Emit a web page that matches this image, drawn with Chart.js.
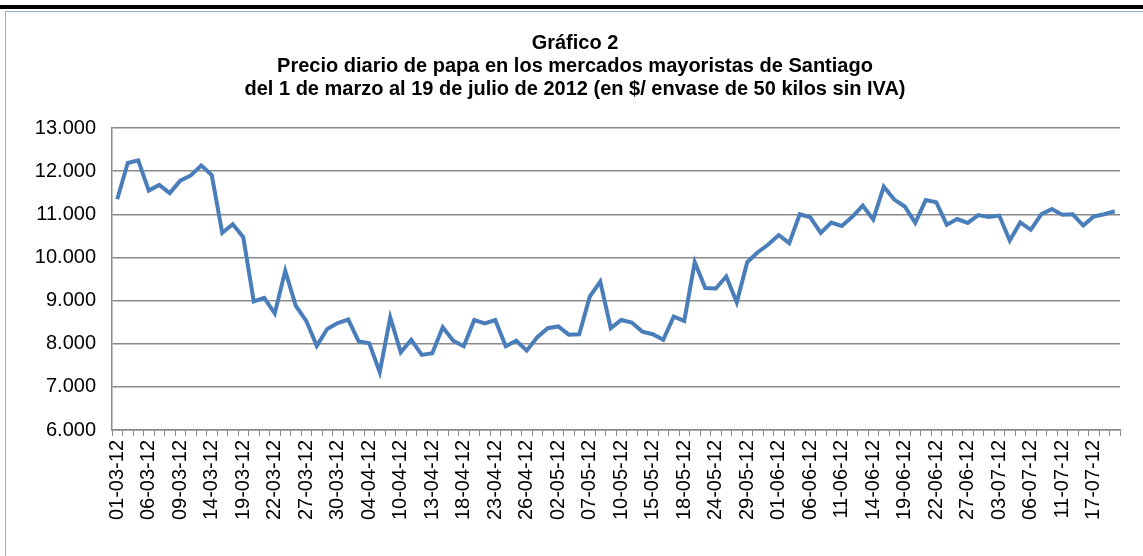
<!DOCTYPE html>
<html>
<head>
<meta charset="utf-8">
<script src="https://cdn.jsdelivr.net/npm/chart.js@4.4.1/dist/chart.umd.min.js"></script>
<style>
html, body { margin:0; padding:0; background:#fff; }
body { width:1143px; height:556px; position:relative; overflow:hidden; }
#barra { position:absolute; left:0; top:5px; width:1143px; height:4px; background:#000; }
#marco { position:absolute; left:5px; top:11px; width:1150px; height:600px; border:1px solid #95b0cf; box-sizing:border-box; }
#wrap { position:absolute; left:0; top:0; width:1143px; height:556px; }
</style>
</head>
<body>
<div id="barra"></div>
<div id="marco"></div>
<div id="wrap"><canvas id="c1"></canvas></div>
<script>
// =========================
// DATOS
// =========================
const fechas = [
    "01-03-12","02-03-12","05-03-12","06-03-12","07-03-12","08-03-12","09-03-12","12-03-12","13-03-12","14-03-12",
    "15-03-12","16-03-12","19-03-12","20-03-12","21-03-12","22-03-12","23-03-12","26-03-12","27-03-12","28-03-12",
    "29-03-12","30-03-12","02-04-12","03-04-12","04-04-12","05-04-12","09-04-12","10-04-12","11-04-12","12-04-12",
    "13-04-12","16-04-12","17-04-12","18-04-12","19-04-12","20-04-12","23-04-12","24-04-12","25-04-12","26-04-12",
    "27-04-12","30-04-12","02-05-12","03-05-12","04-05-12","07-05-12","08-05-12","09-05-12","10-05-12","11-05-12",
    "14-05-12","15-05-12","16-05-12","17-05-12","18-05-12","22-05-12","23-05-12","24-05-12","25-05-12","28-05-12",
    "29-05-12","30-05-12","31-05-12","01-06-12","04-06-12","05-06-12","06-06-12","07-06-12","08-06-12","11-06-12",
    "12-06-12","13-06-12","14-06-12","15-06-12","18-06-12","19-06-12","20-06-12","21-06-12","22-06-12","25-06-12",
    "26-06-12","27-06-12","28-06-12","29-06-12","03-07-12","04-07-12","05-07-12","06-07-12","09-07-12","10-07-12",
    "11-07-12","12-07-12","13-07-12","17-07-12","18-07-12","19-07-12"
];

const precios = [
    11350, 12190, 12250, 11550, 11680, 11490, 11780, 11900, 12130, 11910,
    10570, 10770, 10470,  8980,  9060,  8700,  9690,  8880,  8530,  7950,
     8340,  8480,  8560,  8050,  8010,  7340,  8610,  7800,  8090,  7740,
     7780,  8380,  8070,  7940,  8550,  8470,  8550,  7940,  8070,  7840,
     8150,  8360,  8400,  8210,  8220,  9090,  9440,  8360,  8550,  8490,
     8280,  8220,  8090,  8630,  8530,  9890,  9290,  9280,  9560,  8960,
     9890, 10120, 10300, 10520, 10330, 11000, 10930, 10570, 10810, 10730,
    10940, 11200, 10880, 11640, 11340, 11180, 10800, 11330, 11280, 10760,
    10890, 10800, 10980, 10940, 10970, 10390, 10810, 10640, 11000, 11120,
    10990, 11000, 10740, 10950, 11000, 11070
];

const tituloLineas = [
    "Gráfico 2",
    "Precio diario de papa en los mercados mayoristas de Santiago",
    "del 1 de marzo al 19 de julio de 2012 (en $/ envase de 50 kilos sin IVA)"
];

const ejeYMin = 6000;
const ejeYMax = 13000;
const ejeYPaso = 1000;

// =========================
// FORMATO MILES CON PUNTO
// =========================
function formatoMiles(v){
    return String(v).replace(/\B(?=(\d{3})+(?!\d))/g, ".");
}

const fuente = "'Liberation Sans', Arial, sans-serif";

const ctx1 = document.getElementById("c1").getContext("2d");

const chart1 = new Chart(ctx1, {
    type: "line",
    data: {
        labels: fechas,
        datasets: [{
            label: "Precio",
            data: precios,
            borderColor: "#4a7ebb",
            borderWidth: 4,
            pointRadius: 0,
            tension: 0,
            fill: false
        }]
    },
    options: {
        responsive: true,
        maintainAspectRatio: false,
        animation: false,
        layout: {
            padding: { left: 30, right: 23, top: 0, bottom: 0 }
        },
        plugins: {
            legend: { display: false },
            tooltip: { enabled: false },
            title: {
                display: true,
                text: tituloLineas,
                color: "#000",
                font: { family: fuente, size: 20, weight: "bold", lineHeight: 1.15 },
                padding: { top: 32, bottom: 27 }
            }
        },
        scales: {
            x: {
                offset: true,
                grid: {
                    offset: true,
                    drawOnChartArea: false,
                    drawTicks: true,
                    tickLength: 6,
                    color: "#8a8a8a",
                    lineWidth: 1
                },
                border: { color: "#8a8a8a", width: 1.5 },
                ticks: {
                    autoSkip: false,
                    maxRotation: 90,
                    minRotation: 90,
                    padding: 4,
                    color: "#000",
                    font: { family: fuente, size: 20 },
                    callback: function(val, i){
                        return i % 3 === 0 ? fechas[i] : "";
                    }
                },
                afterFit: function(scale){ scale.height = 126; }
            },
            y: {
                min: ejeYMin,
                max: ejeYMax,
                grid: {
                    drawTicks: false,
                    color: "#8a8a8a",
                    lineWidth: 1.5
                },
                border: { color: "#8a8a8a", width: 1.5 },
                ticks: {
                    stepSize: ejeYPaso,
                    padding: 16,
                    color: "#000",
                    font: { family: fuente, size: 20 },
                    callback: function(v){ return formatoMiles(v); }
                },
                afterFit: function(scale){ scale.width = 82; }
            }
        }
    }
});
</script>
</body>
</html>
